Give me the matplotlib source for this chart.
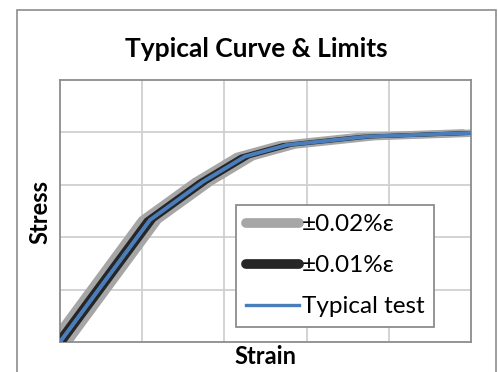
import matplotlib
matplotlib.use("Agg")
import matplotlib.pyplot as plt
from matplotlib.lines import Line2D
from matplotlib.patches import Rectangle

# typical test curve (strain in %, stress in MPa)
strain = [0.0, 0.219, 0.348, 0.450, 0.552, 0.746, 1.0]
stress = [0.0, 233.0, 306.0, 354.0, 376.0, 392.0, 399.0]

# strain tolerance bands around the typical curve (in % strain)
outer_offset = 0.02
inner_offset = 0.01

legend_labels = ["\u00b10.02%\u03b5", "\u00b10.01%\u03b5", "Typical test"]

gray = "#a6a6a6"
dark = "#262626"
blue = "#4a7ebb"

plt.rcParams["font.family"] = ["Lato", "DejaVu Sans"]

fig = plt.figure(figsize=(4.98, 3.72), dpi=100)
ax = fig.add_axes([60 / 498, 1 - 342 / 372, 411 / 498, 262 / 372])

# chart area border
fig.patches.append(Rectangle((17 / 498, -0.05), 479 / 498, (362 / 372) + 0.05,
                             transform=fig.transFigure, fill=False,
                             edgecolor="#8c8c8c", linewidth=1.2))

for off in (-outer_offset, outer_offset):
    ax.plot([x + off for x in strain], stress, color=gray, lw=5.4,
            solid_capstyle="round", solid_joinstyle="round", zorder=2)
for off in (-inner_offset, inner_offset):
    ax.plot([x + off for x in strain], stress, color=dark, lw=2.7,
            solid_capstyle="round", solid_joinstyle="round", zorder=3)
ax.plot(strain, stress, color=blue, lw=2.8, solid_joinstyle="round", zorder=4)

ax.set_xlim(0, 1.0)
ax.set_ylim(0, 500)
ax.set_xticks([0.2, 0.4, 0.6, 0.8])
ax.set_yticks([100, 200, 300, 400])
ax.tick_params(length=0, labelbottom=False, labelleft=False)
ax.grid(True, color="#d0d0d0", lw=1.3)
ax.set_axisbelow(True)
for s in ax.spines.values():
    s.set_color("#8c8c8c")
    s.set_linewidth(1.3)

handles = [
    Line2D([], [], color=gray, lw=7, solid_capstyle="round"),
    Line2D([], [], color=dark, lw=7, solid_capstyle="round"),
    Line2D([], [], color=blue, lw=2.4),
]
leg = ax.legend(handles, legend_labels, loc="lower left",
                bbox_to_anchor=(0.428, 0.057), fontsize=17.5,
                handlelength=2.2, handletextpad=0.1, labelspacing=0.82,
                borderpad=0.4, borderaxespad=0, fancybox=False,
                framealpha=1, edgecolor="#8c8c8c")
leg.get_frame().set_linewidth(1.3)

fig.text(256.5 / 498, 1 - 49 / 372, "Typical Curve & Limits", ha="center",
         va="center", fontsize=19, fontweight="bold")
fig.text(265 / 498, 1 - 356 / 372, "Strain", ha="center", va="center",
         fontsize=17, fontweight="bold")
fig.text(40 / 498, 1 - 212 / 372, "Stress", ha="center", va="center",
         fontsize=17, fontweight="bold", rotation=90)

fig.savefig("out.png", dpi=100)
